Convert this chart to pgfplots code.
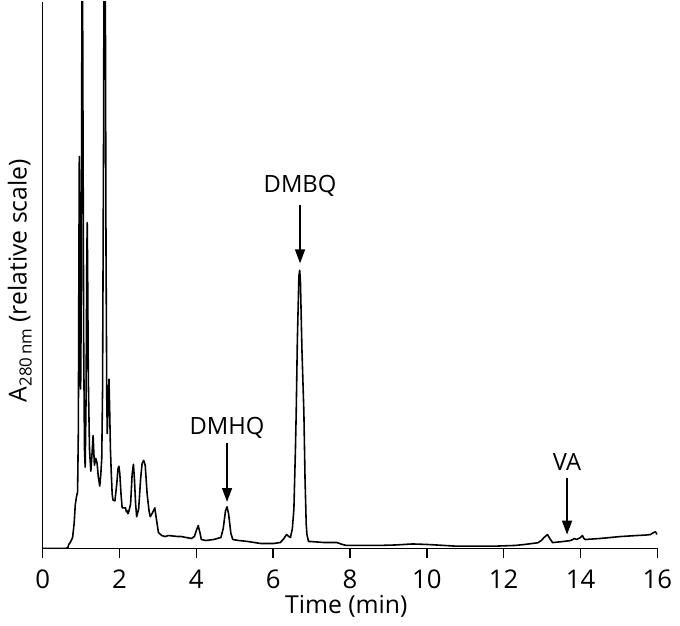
\documentclass[border=0pt]{standalone}
\usepackage{fontspec}
\setmainfont{Open Sans}
\usepackage{pgfplots}
\pgfplotsset{compat=1.18}
\usetikzlibrary{arrows.meta}
\begin{document}
\fontsize{12}{14}\selectfont
\begin{tikzpicture}
\path (-21.5pt,-35pt) rectangle (318.5pt,277pt);
\begin{axis}[
  at={(0,0)}, anchor=origin,
  scale only axis,
  width=310.5pt, height=276pt,
  xmin=0, xmax=16, ymin=0, ymax=552,
  axis x line=bottom, axis y line=left,
  axis line style={-, line width=0.8pt, black},
  xtick={0,2,...,16}, ytick=\empty,
  tick align=outside, major tick length=5pt,
  xtick style={line width=0.8pt, black},
  /pgf/number format/assume math mode=true,
  xticklabel style={font=\fontsize{13}{15}\selectfont, yshift=-1.5pt},
  every axis x label/.style={at={(axis description cs:0.494,-0.106)}, anchor=center, font=\fontsize{12.5}{15}\selectfont},
  every axis y label/.style={at={(axis description cs:-0.037,0.49)}, anchor=center, rotate=90, font=\fontsize{12.5}{15}\selectfont},
  xlabel={Time (min)},
  ylabel={A\raisebox{-2.5pt}{\fontsize{8.5}{10}\selectfont 280\,nm} (relative scale)},
  clip=true,
]
\addplot[black, line width=0.8pt, line join=round] coordinates {
(0.00,0) (0.60,0) (0.66,1) (0.68,4) (0.72,6) (0.78,11) (0.82,25) (0.85,44) (0.88,52) (0.91,57)
(0.93,120) (0.945,300) (0.955,396) (0.965,300) (0.98,170) (0.99,161) (1.005,250) (1.02,500)
(1.03,700) (1.045,500) (1.07,200) (1.09,100) (1.108,82) (1.13,150) (1.15,290) (1.16,329)
(1.17,290) (1.19,170) (1.22,100) (1.255,78) (1.285,95) (1.314,114) (1.335,95) (1.348,84)
(1.384,91) (1.418,86) (1.45,72) (1.487,63) (1.515,75) (1.539,91) (1.56,160) (1.585,400)
(1.605,700) (1.615,800) (1.63,600) (1.65,300) (1.67,150) (1.683,116) (1.70,140) (1.727,171)
(1.745,140) (1.765,100) (1.786,77) (1.81,55) (1.83,49) (1.881,48) (1.93,65) (1.96,80)
(1.985,83) (2.01,75) (2.04,55) (2.07,41) (2.157,41) (2.18,37) (2.204,38) (2.22,35) (2.242,37)
(2.29,45) (2.33,75) (2.363,85) (2.39,70) (2.42,45) (2.448,32) (2.50,40) (2.55,70) (2.59,86) (2.63,89)
(2.67,84) (2.72,55) (2.77,38) (2.802,32) (2.86,36) (2.92,41) (2.96,30) (3.015,16) (3.10,13)
(3.188,12) (3.27,13) (3.53,12) (3.61,12) (3.87,10) (3.95,12) (4.00,18) (4.05,23) (4.10,15)
(4.13,9) (4.25,8) (4.45,9) (4.64,11) (4.70,20) (4.76,38) (4.80,42) (4.84,35) (4.90,15)
(4.95,9) (5.10,8) (5.34,7) (5.67,5) (6.02,5) (6.19,6) (6.28,10) (6.35,14) (6.41,12) (6.45,11)
(6.50,20) (6.54,40) (6.58,100) (6.60,137) (6.63,210) (6.67,275) (6.69,281) (6.71,270)
(6.75,200) (6.80,137) (6.83,70) (6.86,25) (6.88,14) (6.92,7) (6.97,7) (7.31,6) (7.65,6)
(7.80,4) (7.91,3) (8.76,3) (9.2,3.5) (9.63,4.5) (10.0,4) (10.23,3.5) (10.75,2.3) (11.78,2.3)
(12.3,3) (12.55,4) (12.75,5) (12.89,5.7) (12.98,8) (13.05,11) (13.14,14) (13.2,10) (13.27,6)
(13.31,6) (13.55,7) (13.75,8) (13.84,10) (13.9,9) (14.0,11) (14.05,13) (14.09,10) (14.12,9)
(14.5,10) (15.04,12) (15.46,13) (15.7,13.5) (15.82,14) (15.9,16) (15.95,16.7) (16.0,14)
};
\draw[line width=0.8pt, -{Triangle[width=5pt,length=7pt]}] (axis cs:4.80,106) -- (axis cs:4.80,47);
\node[anchor=center] at (axis cs:4.80,121.5) {DMHQ};
\draw[line width=0.8pt, -{Triangle[width=5pt,length=7pt]}] (axis cs:6.70,347) -- (axis cs:6.70,288);
\node[anchor=center] at (axis cs:6.70,366) {DMBQ};
\draw[line width=0.8pt, -{Triangle[width=5pt,length=7pt]}] (axis cs:13.65,71) -- (axis cs:13.65,14);
\node[anchor=center] at (axis cs:13.65,87) {VA};
\end{axis}
\end{tikzpicture}
\end{document}
